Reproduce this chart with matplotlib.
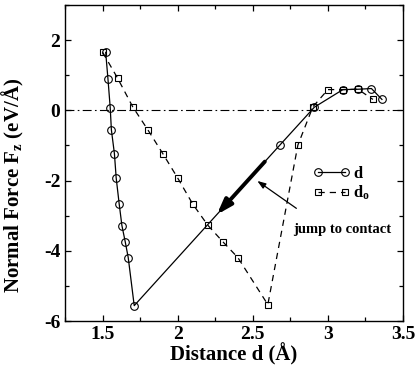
import matplotlib
matplotlib.use("Agg")
import matplotlib.pyplot as plt
from matplotlib.ticker import MultipleLocator

plt.rcParams['font.family'] = ['Liberation Serif', 'DejaVu Serif']
plt.rcParams['font.weight'] = 'bold'
plt.rcParams['axes.labelweight'] = 'bold'
plt.rcParams['mathtext.default'] = 'regular'
plt.rcParams['axes.unicode_minus'] = False

# d (actual distance) vs normal force
d_x = [3.36, 3.29, 3.20, 3.10, 2.91, 2.68, 1.71, 1.67, 1.65, 1.628, 1.61,
       1.59, 1.578, 1.558, 1.55, 1.535, 1.52]
d_y = [0.31, 0.62, 0.60, 0.59, 0.09, -0.99, -5.56, -4.19, -3.74, -3.28, -2.67,
       -1.93, -1.23, -0.56, 0.08, 0.90, 1.65]

# d_o (nominal distance) vs normal force
do_x = [1.5, 1.6, 1.7, 1.8, 1.9, 2.0, 2.1, 2.2, 2.3, 2.4, 2.6,
        2.8, 2.9, 3.0, 3.1, 3.2, 3.3]
do_y = [1.65, 0.91, 0.10, -0.55, -1.23, -1.93, -2.67, -3.27, -3.74, -4.19, -5.53,
        -0.99, 0.10, 0.59, 0.59, 0.60, 0.31]

fig = plt.figure(figsize=(4.15, 3.8), dpi=100)
ax = fig.add_axes([0.157, 0.155, 0.814, 0.832])

ax.axhline(0, color='black', lw=0.8, ls=(0, (8, 3, 1.5, 3)))

ax.plot(d_x, d_y, color='black', lw=0.9, marker='o', ms=5.5,
        mfc='none', mec='black', mew=0.8, label='d')
ax.plot(do_x, do_y, color='black', lw=0.9, ls=(0, (5, 4)), marker='s', ms=4.5,
        mfc='none', mec='black', mew=0.8, label='d$_o$')

# thick arrow along the jump
ax.annotate('', xy=(2.26, -2.97), xytext=(2.58, -1.46),
            arrowprops=dict(arrowstyle='-|>,head_length=0.9,head_width=0.3',
                            lw=2.8, color='black', shrinkA=0, shrinkB=0))
# pointer from the text
ax.annotate('', xy=(2.53, -2.01), xytext=(2.79, -2.79),
            arrowprops=dict(arrowstyle='-|>,head_length=0.5,head_width=0.18',
                            lw=0.9, color='black', shrinkA=0, shrinkB=0))
ax.text(2.77, -3.38, 'jump to contact', fontsize=10.5, fontweight='bold',
        va='center', ha='left')

ax.legend(loc='upper left', bbox_to_anchor=(0.735, 0.49), frameon=False,
          fontsize=12, numpoints=2, handlelength=2.2, handletextpad=0.2,
          labelspacing=0.1, borderpad=0, borderaxespad=0)

ax.set_xlim(1.25, 3.5)
ax.set_ylim(-6, 3)
ax.xaxis.set_minor_locator(MultipleLocator(0.25))
ax.yaxis.set_minor_locator(MultipleLocator(1))
ax.set_xticks([1.5, 2, 2.5, 3, 3.5])
ax.set_xticklabels(['1.5', '2', '2.5', '3', '3.5'])
ax.set_yticks([-6, -4, -2, 0, 2])
ax.set_yticklabels(['-6', '-4', '-2', '0', '2'])
ax.tick_params(which='both', direction='in', top=True, right=True, labelsize=14)
ax.tick_params(which='major', length=4, width=0.9)
ax.tick_params(which='minor', length=3, width=0.9)
for lab in ax.get_xticklabels() + ax.get_yticklabels():
    lab.set_fontweight('bold')
for s in ax.spines.values():
    s.set_linewidth(1.0)

ax.set_xlabel('Distance d (Å)', fontsize=15, fontweight='bold', labelpad=0)
ax.set_ylabel('Normal Force F$_z$ (eV/Å)', fontsize=15, fontweight='bold')
ax.yaxis.set_label_coords(-0.115, 0.43)

fig.savefig('out.png', dpi=100)
